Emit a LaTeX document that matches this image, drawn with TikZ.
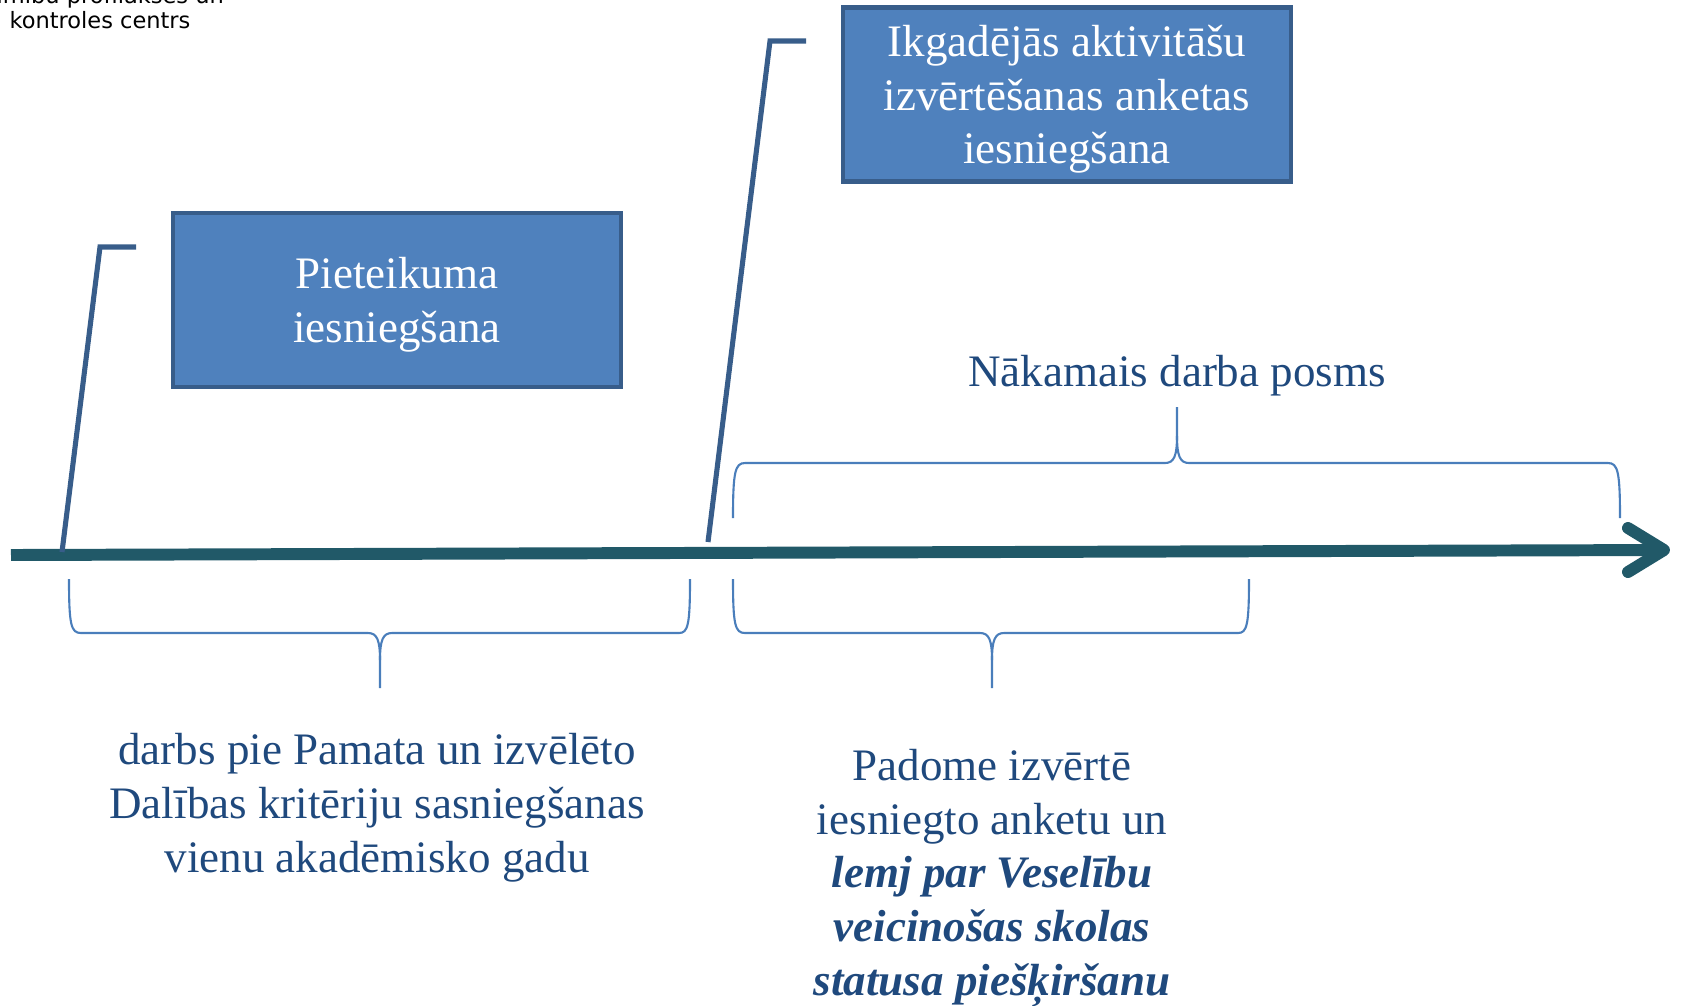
\documentclass[tikz,border=0pt]{standalone}
\usepackage{fontspec}
\setmainfont{Liberation Serif}
\newfontfamily\sanslabel{DejaVu Sans}
\definecolor{boxfill}{HTML}{4F81BD}
\definecolor{boxborder}{HTML}{385D8A}
\definecolor{leadercol}{HTML}{385D8A}
\definecolor{arrowcol}{HTML}{215968}
\definecolor{textblue}{HTML}{1F497D}
\definecolor{bracecol}{HTML}{4A7EBB}
\tikzset{
  mainfont/.style={font=\fontsize{12.8pt}{15.25pt}\selectfont},
  stagebox/.style={draw=boxborder, fill=boxfill, line width=1.3pt, text=white, align=center,
    inner sep=0pt, minimum width=4.48cm, text depth=0pt, mainfont},
  bluetext/.style={text=textblue, align=center, mainfont, anchor=base, inner sep=0pt},
  leader/.style={draw=leadercol, line width=1.45pt},
  bracket/.style={draw=bracecol, line width=0.6pt},
  timeline/.style={draw=arrowcol, line width=3.4pt, line cap=round, line join=round},
}
\begin{document}
\begin{tikzpicture}[x=0.01cm,y=-0.01cm]
\useasboundingbox (0,0) rectangle (1681,1005);
\clip (0,0) rectangle (1681,1005);

% logo text (cut off at the top edge)
\node[anchor=base, inner sep=0pt, align=center, font=\sanslabel\fontsize{6.4pt}{7.1pt}\selectfont] (logo) at (100,28) {Slimību profilakses un\\kontroles centrs};

% boxes
\node[stagebox, minimum height=1.74cm] (b1) at (397,300) {Pieteikuma\\iesniegšana};
\node[stagebox, minimum height=1.735cm] (b2) at (1067,94.5) {Ikgadējās aktivitāšu\\izvērtēšanas anketas\\iesniegšana};

% timeline arrow
\coordinate (ts) at (11,555);
\coordinate (te) at (1664,550);
\coordinate (tu) at (1628,528);
\coordinate (tl) at (1628,572);
\draw[timeline, line cap=butt] (ts) -- (te);
\draw[timeline] (tu) -- (te) -- (tl);

% leader lines
\coordinate (l1a) at (62,552);
\coordinate (l1b) at (100,247);
\coordinate (l1c) at (136,247);
\draw[leader] (l1a) -- (l1b) -- (l1c);
\coordinate (l2a) at (708,542);
\coordinate (l2b) at (770,41);
\coordinate (l2c) at (806,41);
\draw[leader] (l2a) -- (l2b) -- (l2c);

% upper brace
\draw[bracket] (733,518) .. controls (733,472) and (735,463) .. (745,463) -- (1165,463)
  .. controls (1174,463) and (1177,456) .. (1177,436) -- (1177,407);
\draw[bracket] (1177,436) .. controls (1177,456) and (1180,463) .. (1189,463) -- (1608,463)
  .. controls (1618,463) and (1620,472) .. (1620,518);

% lower left brace
\draw[bracket] (69,579) .. controls (69,625) and (71,633) .. (81,633) -- (368,633)
  .. controls (377,633) and (380,640) .. (380,660) -- (380,688);
\draw[bracket] (380,660) .. controls (380,640) and (383,633) .. (392,633) -- (679,633)
  .. controls (688,633) and (690,625) .. (690,579);

% lower right brace
\draw[bracket] (733,579) .. controls (733,625) and (735,633) .. (745,633) -- (980,633)
  .. controls (989,633) and (992,640) .. (992,660) -- (992,688);
\draw[bracket] (992,660) .. controls (992,640) and (995,633) .. (1004,633) -- (1238,633)
  .. controls (1247,633) and (1249,625) .. (1249,579);

% labels
\node[bluetext] (next) at (1177,386) {Nākamais darba posms};
\node[bluetext] (work) at (377,872) {darbs pie Pamata un izvēlēto\\Dalības kritēriju sasniegšanas\\vienu akadēmisko gadu};
\node[bluetext] (council) at (992,995) {Padome izvērtē\\iesniegto anketu un\\\textbf{\textit{lemj par Veselību}}\\\textbf{\textit{veicinošas skolas}}\\\textbf{\textit{statusa piešķiršanu}}};
\end{tikzpicture}
\end{document}
